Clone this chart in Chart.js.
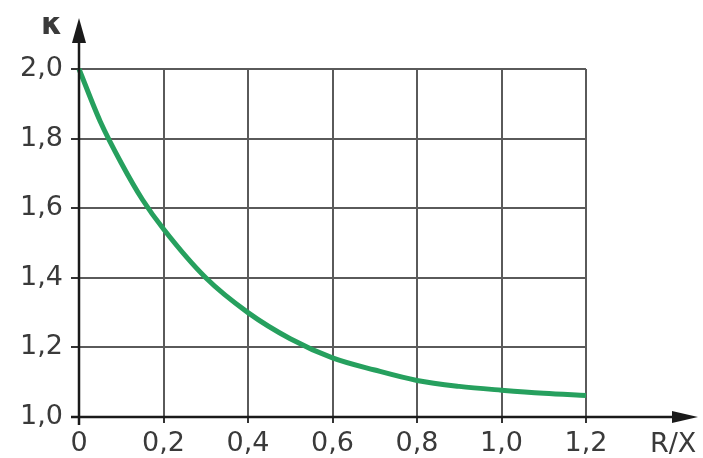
<!DOCTYPE html>
<html>
<head>
<meta charset="utf-8">
<script src="https://cdn.jsdelivr.net/npm/chart.js@4"></script>
<style>
  html, body { margin: 0; padding: 0; background: #fff; }
  canvas { display: block; }
</style>
</head>
<body>
<canvas id="kappaChart" width="703" height="458"></canvas>
<script>
// R/X ratio and kappa factor
const ratioRX = [0, 0.05, 0.1, 0.15, 0.2, 0.3, 0.4, 0.5, 0.6, 0.7, 0.8, 0.9, 1.0, 1.1, 1.2];
const kappa   = [2.0, 1.85, 1.73, 1.625, 1.54, 1.40, 1.30, 1.225, 1.17, 1.135, 1.105, 1.088, 1.077, 1.068, 1.062];
const xTicks = [0, 0.2, 0.4, 0.6, 0.8, 1.0, 1.2];
const yTicks = [1.0, 1.2, 1.4, 1.6, 1.8, 2.0];
const yTitle = 'κ';
const xTitle = 'R/X';

const FONT = '"DejaVu Sans", Arial, sans-serif';
const fmt = v => (v === 0 ? '0' : v.toFixed(1).replace('.', ','));

// draws the axis arrows and the two axis names
const arrowAxes = {
    id: 'arrowAxes',
    afterDraw(chart) {
        const ctx = chart.ctx;
        const a = chart.chartArea;
        ctx.save();
        ctx.strokeStyle = '#1a1a1a';
        ctx.fillStyle = '#1a1a1a';
        ctx.lineWidth = 2.5;
        // y axis
        ctx.beginPath();
        ctx.moveTo(a.left, a.bottom + 8);
        ctx.lineTo(a.left, 35);
        ctx.stroke();
        ctx.beginPath();
        ctx.moveTo(a.left, 18);
        ctx.lineTo(a.left - 7, 43);
        ctx.lineTo(a.left + 7, 43);
        ctx.closePath();
        ctx.fill();
        // x axis
        ctx.beginPath();
        ctx.moveTo(a.left - 8, a.bottom);
        ctx.lineTo(680, a.bottom);
        ctx.stroke();
        ctx.beginPath();
        ctx.moveTo(698, a.bottom);
        ctx.lineTo(672, a.bottom - 6);
        ctx.lineTo(672, a.bottom + 6);
        ctx.closePath();
        ctx.fill();
        // names
        ctx.fillStyle = '#3a3a3a';
        ctx.textBaseline = 'alphabetic';
        ctx.textAlign = 'left';
        ctx.font = 'bold 30px ' + FONT;
        ctx.fillText(yTitle, 41, 34);
        ctx.font = '27px ' + FONT;
        ctx.fillText(xTitle, 650, 452);
        ctx.restore();
    }
};

new Chart(document.getElementById('kappaChart'), {
    type: 'scatter',
    data: {
        datasets: [{
            data: ratioRX.map((x, i) => ({ x: x, y: kappa[i] })),
            showLine: true,
            borderColor: '#26a05e',
            borderWidth: 5,
            pointRadius: 0,
            cubicInterpolationMode: 'monotone',
            clip: false
        }]
    },
    options: {
        responsive: false,
        animation: false,
        devicePixelRatio: 1,
        layout: { padding: { top: 69, right: 117, left: 0, bottom: 0 } },
        plugins: { legend: { display: false }, tooltip: { enabled: false } },
        scales: {
            x: {
                type: 'linear',
                min: 0, max: 1.2,
                afterBuildTicks: s => { s.ticks = xTicks.map(v => ({ value: v })); },
                afterFit: s => { s.height = 41; },
                grid: { color: '#5a5a5a', lineWidth: 2, tickLength: 6, tickColor: '#333' },
                border: { display: false },
                ticks: {
                    padding: 5,
                    color: '#3a3a3a',
                    font: { family: FONT, size: 27 },
                    callback: v => fmt(v),
                    maxRotation: 0
                }
            },
            y: {
                type: 'linear',
                min: 1, max: 2,
                afterBuildTicks: s => { s.ticks = yTicks.map(v => ({ value: v })); },
                afterFit: s => { s.width = 79; },
                grid: { color: '#5a5a5a', lineWidth: 2, tickLength: 8, tickColor: '#333' },
                border: { display: false },
                ticks: {
                    padding: 8,
                    color: '#3a3a3a',
                    font: { family: FONT, size: 27 },
                    callback: v => fmt(v)
                }
            }
        }
    },
    plugins: [arrowAxes]
});
</script>
</body>
</html>
